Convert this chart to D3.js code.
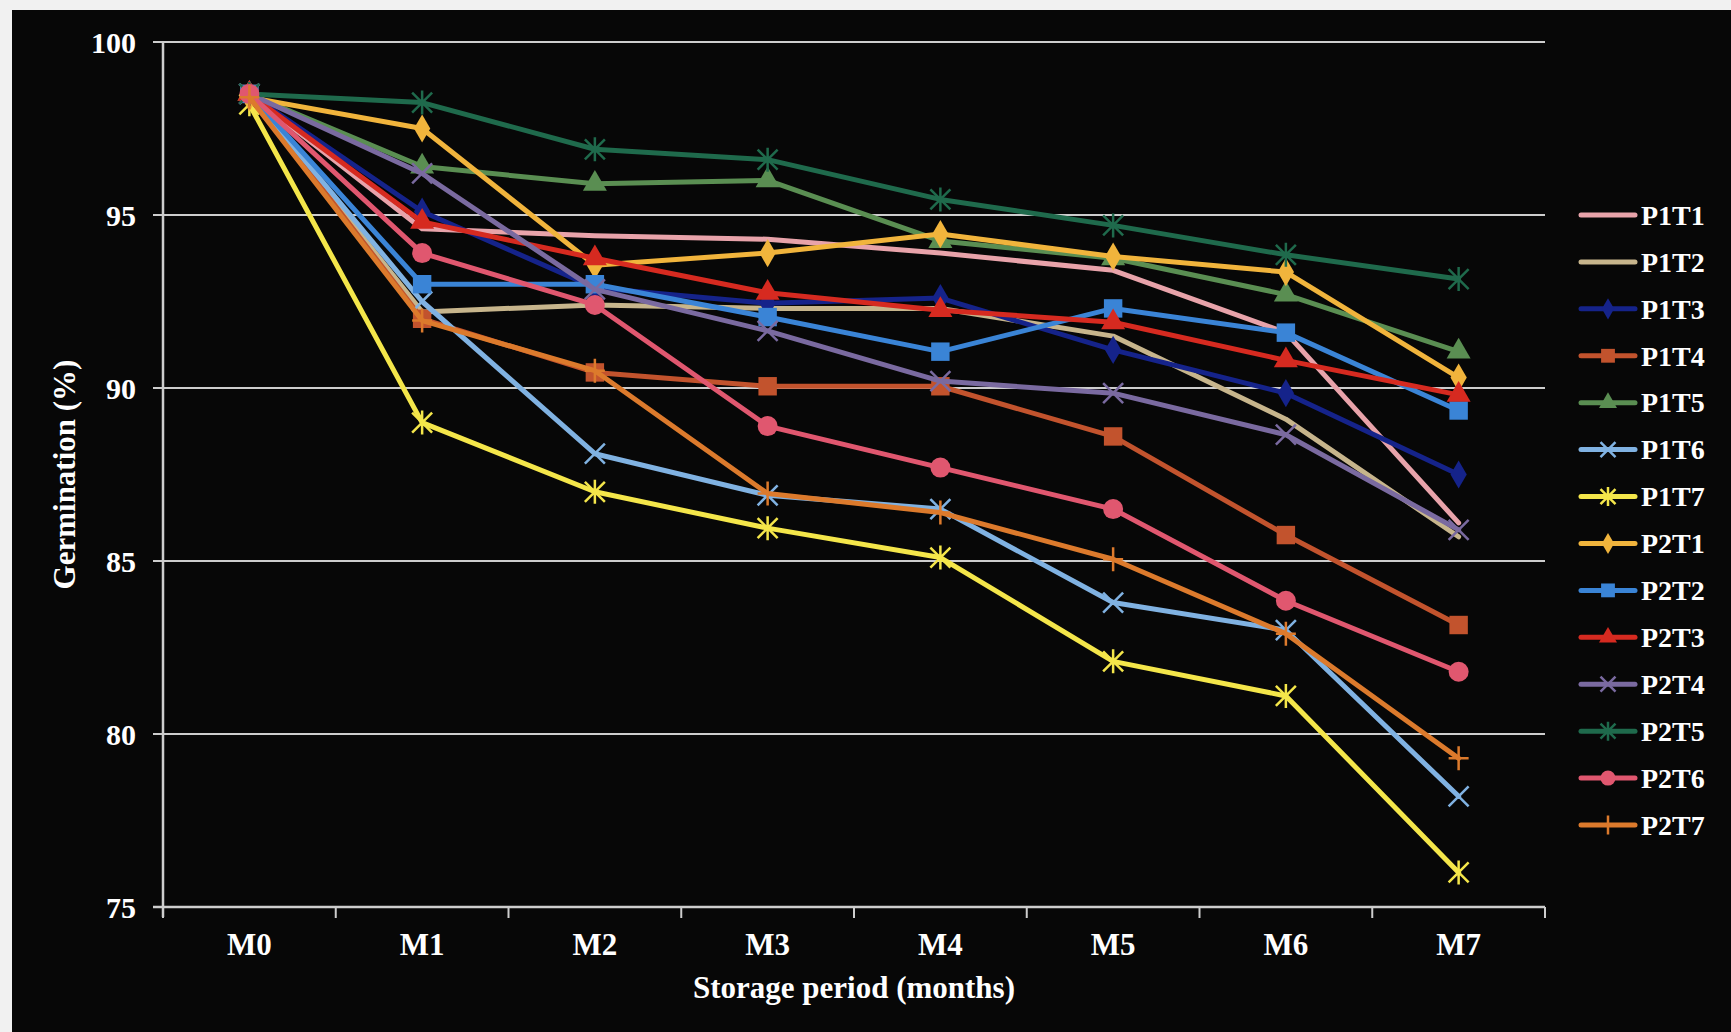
<!DOCTYPE html>
<html>
<head>
<meta charset="utf-8">
<script src="https://cdn.jsdelivr.net/npm/d3@7"></script>
<style>
  html, body { margin: 0; padding: 0; background: #f1f1f1; }
  svg { display: block; }
  text { font-family: "Liberation Serif", "Times New Roman", serif; font-weight: bold; fill: #ffffff; }
</style>
</head>
<body>
<script>
// Storage months on the x axis
const months = ["M0", "M1", "M2", "M3", "M4", "M5", "M6", "M7"];
const yTicks = [75, 80, 85, 90, 95, 100];

// Germination (%) per treatment across the storage period
const P1T1 = [98.5, 94.6, 94.4, 94.3, 93.9, 93.4, 91.6, 86.1];
const P1T2 = [98.5, 92.2, 92.4, 92.3, 92.3, 91.5, 89.1, 85.7];
const P1T3 = [98.5, 95.1, 92.9, 92.45, 92.6, 91.1, 89.85, 87.5];
const P1T4 = [98.5, 92.0, 90.45, 90.05, 90.05, 88.6, 85.75, 83.15];
const P1T5 = [98.5, 96.4, 95.9, 96.0, 94.25, 93.75, 92.7, 91.05];
const P1T6 = [98.5, 92.5, 88.1, 86.9, 86.5, 83.8, 83.0, 78.2];
const P1T7 = [98.2, 89.0, 87.0, 85.95, 85.1, 82.1, 81.1, 76.0];
const P2T1 = [98.4, 97.5, 93.55, 93.9, 94.45, 93.8, 93.35, 90.3];
const P2T2 = [98.5, 93.0, 93.0, 92.05, 91.05, 92.3, 91.6, 89.35];
const P2T3 = [98.5, 94.8, 93.75, 92.75, 92.25, 91.9, 90.8, 89.8];
const P2T4 = [98.5, 96.2, 92.85, 91.65, 90.2, 89.85, 88.65, 85.9];
const P2T5 = [98.5, 98.25, 96.9, 96.6, 95.45, 94.7, 93.85, 93.15];
const P2T6 = [98.5, 93.9, 92.4, 88.9, 87.7, 86.5, 83.85, 81.8];
const P2T7 = [98.4, 91.95, 90.5, 86.95, 86.4, 85.05, 82.9, 79.3];

const seriesNames = ["P1T1","P1T2","P1T3","P1T4","P1T5","P1T6","P1T7",
                     "P2T1","P2T2","P2T3","P2T4","P2T5","P2T6","P2T7"];
const seriesValues = [P1T1,P1T2,P1T3,P1T4,P1T5,P1T6,P1T7,
                      P2T1,P2T2,P2T3,P2T4,P2T5,P2T6,P2T7];

// Line colours and marker shapes, in series order
const seriesColors = ["#e8a3aa","#c7b58c","#15238a","#c2532d","#5a8e52","#80b2e2","#f4e64a",
                      "#f1b43c","#3a84d6","#d62a20","#7a6aa0","#1f6a4c","#e0576f","#dc7a2c"];
const seriesMarkers = ["none","none","diamond","square","triangle","cross","asterisk",
                       "diamond","square","triangle","cross","asterisk","circle","plus"];

const W = 1731, H = 1032;
const plotLeft = 163, plotRight = 1545, plotTop = 42, plotBottom = 907;

const svg = d3.select("body").append("svg").attr("width", W).attr("height", H);

// dark panel with a thin light margin on the top and left
svg.append("rect").attr("x", 12).attr("y", 10).attr("width", W - 12).attr("height", H - 10)
  .attr("fill", "#070707");

const x = d3.scaleBand().domain(months).range([plotLeft, plotRight]).paddingInner(0).paddingOuter(0);
const cx = m => x(m) + x.bandwidth() / 2;
const y = d3.scaleLinear().domain([75, 100]).range([plotBottom, plotTop]);

const gridColor = "#cdcdcd";

// horizontal gridlines with short left ticks
svg.append("g").selectAll("line").data(yTicks).join("line")
  .attr("x1", plotLeft - 10).attr("x2", plotRight)
  .attr("y1", d => y(d)).attr("y2", d => y(d))
  .attr("stroke", gridColor).attr("stroke-width", 2);

// y axis
const yAxis = d3.axisLeft(y).tickValues(yTicks).tickSize(0).tickPadding(0);
const gy = svg.append("g").attr("transform", `translate(${plotLeft},0)`).call(yAxis);
gy.select(".domain").remove();
gy.selectAll("text").attr("x", -27).attr("dy", "0.34em")
  .style("font-size", "30px").style("fill", "#fff")
  .style("font-family", "'Liberation Serif', serif").style("font-weight", "bold");
svg.append("line").attr("x1", plotLeft).attr("x2", plotLeft).attr("y1", plotTop).attr("y2", plotBottom + 10)
  .attr("stroke", gridColor).attr("stroke-width", 2.5);

// x axis line with tick marks between categories
svg.append("line").attr("x1", plotLeft - 10).attr("x2", plotRight).attr("y1", plotBottom).attr("y2", plotBottom)
  .attr("stroke", gridColor).attr("stroke-width", 2.5);
const boundaries = months.map(m => x(m)).concat([x.range()[1]]);
svg.append("g").selectAll("line").data(boundaries).join("line")
  .attr("x1", d => d).attr("x2", d => d).attr("y1", plotBottom).attr("y2", plotBottom + 11)
  .attr("stroke", gridColor).attr("stroke-width", 2);

const xAxis = d3.axisBottom(x).tickSize(0).tickPadding(0);
const gx = svg.append("g").attr("transform", `translate(0,${plotBottom})`).call(xAxis);
gx.select(".domain").remove();
gx.selectAll("text").attr("y", 48).attr("dy", 0)
  .style("font-size", "31px").style("fill", "#fff")
  .style("font-family", "'Liberation Serif', serif").style("font-weight", "bold");

// axis titles
svg.append("text").attr("x", (plotLeft + plotRight) / 2).attr("y", 998).attr("text-anchor", "middle")
  .style("font-size", "31px").text("Storage period (months)");
svg.append("text").attr("transform", `translate(75,${(plotTop + plotBottom) / 2}) rotate(-90)`)
  .attr("text-anchor", "middle").style("font-size", "31px").text("Germination (%)");

// marker drawing; k scales the glyph (legend uses smaller glyphs)
function drawMarker(g, type, color, k = 1) {
  const s = 10 * k;
  if (type === "none") return;
  if (type === "square") {
    g.append("path").attr("d", d3.symbol(d3.symbolSquare, 340 * k * k)()).attr("fill", color);
  } else if (type === "diamond") {
    g.append("path").attr("d", d3.symbol(d3.symbolDiamond, 230 * k * k)()).attr("fill", color);
  } else if (type === "triangle") {
    g.append("path").attr("d", d3.symbol(d3.symbolTriangle, 250 * k * k)()).attr("fill", color);
  } else if (type === "circle") {
    g.append("circle").attr("r", 10 * k).attr("fill", color);
  } else if (type === "cross") {
    g.append("path").attr("d", `M${-s},${-s}L${s},${s}M${-s},${s}L${s},${-s}`)
      .attr("stroke", color).attr("stroke-width", 2.5).attr("fill", "none");
  } else if (type === "asterisk") {
    g.append("path").attr("d", `M${-s},${-s}L${s},${s}M${-s},${s}L${s},${-s}M0,${-s - 2}L0,${s + 2}`)
      .attr("stroke", color).attr("stroke-width", 2.5).attr("fill", "none");
  } else if (type === "plus") {
    g.append("path").attr("d", `M0,${-s - 2}L0,${s + 2}M${-s},0L${s},0`)
      .attr("stroke", color).attr("stroke-width", 2.5).attr("fill", "none");
  }
}

const line = d3.line().x((d, i) => cx(months[i])).y(d => y(d));

seriesNames.forEach((name, k) => {
  const vals = seriesValues[k];
  const g = svg.append("g").attr("class", "series");
  g.append("path").datum(vals).attr("d", line)
    .attr("fill", "none").attr("stroke", seriesColors[k]).attr("stroke-width", 5)
    .attr("stroke-linejoin", "round").attr("stroke-linecap", "round");
  vals.forEach((v, i) => {
    const mg = g.append("g").attr("transform", `translate(${cx(months[i])},${y(v)})`);
    drawMarker(mg, seriesMarkers[k], seriesColors[k]);
  });
});

// legend
const legendY = d3.scalePoint().domain(seriesNames).range([215, 825]);
const lg = svg.append("g");
seriesNames.forEach((name, k) => {
  const yy = legendY(name);
  lg.append("line").attr("x1", 1581).attr("x2", 1635).attr("y1", yy).attr("y2", yy)
    .attr("stroke", seriesColors[k]).attr("stroke-width", 5).attr("stroke-linecap", "round");
  const mg = lg.append("g").attr("transform", `translate(1608,${yy})`);
  drawMarker(mg, seriesMarkers[k], seriesColors[k], 0.75);
  lg.append("text").attr("x", 1641).attr("y", yy).attr("dy", "0.35em")
    .style("font-size", "28px").text(name);
});
</script>
</body>
</html>
